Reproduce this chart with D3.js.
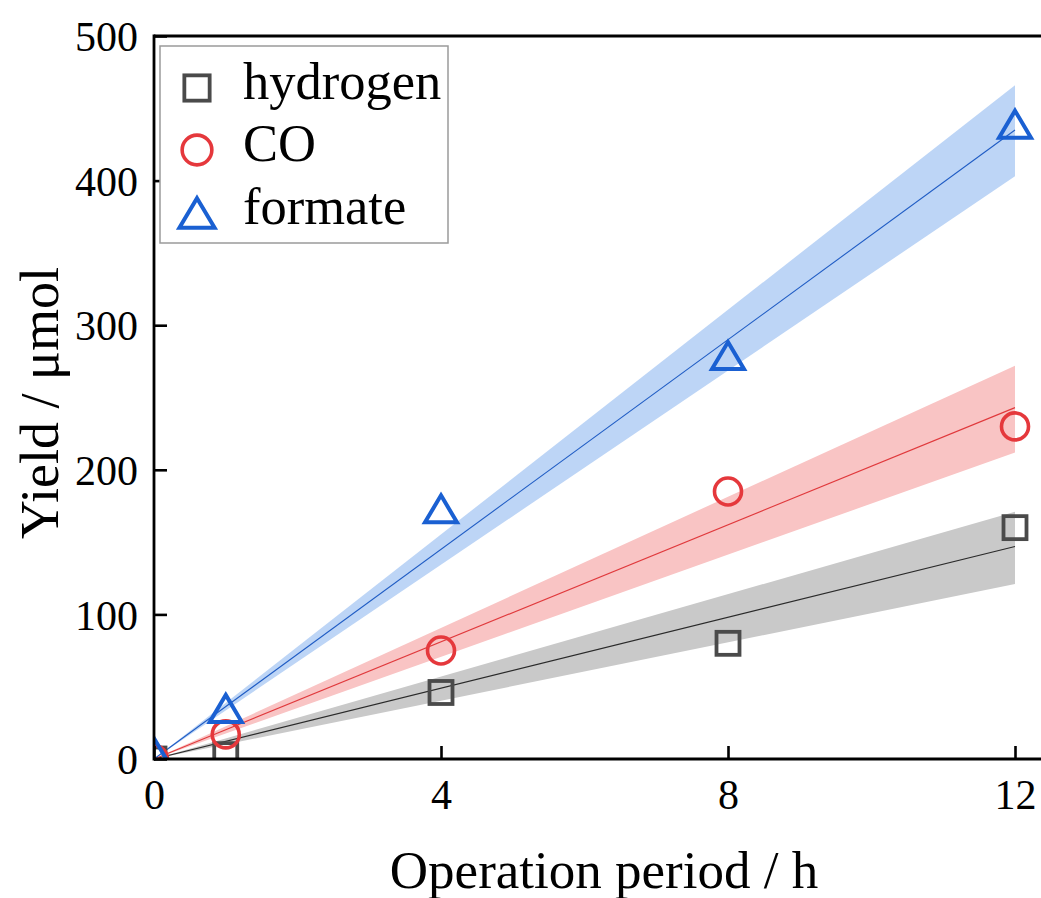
<!DOCTYPE html>
<html>
<head>
<meta charset="utf-8">
<script src="https://cdn.jsdelivr.net/npm/d3@7"></script>
<style>
  body { margin: 0; background: #fff; }
  svg text { font-family: "Liberation Serif", "Times New Roman", serif; fill: #000; }
</style>
</head>
<body>
<div id="plot"></div>
<script>
// values
var hours = [0, 1, 4, 8, 12];
var hydrogen = [0, 3, 46, 80, 160];
var co = [0, 17, 75, 185, 230];
var formate = [5, 35, 173, 279, 439];

// linear fits through origin (read at x = 0 and x = 12)
var fitX = [0, 12];
var hydrogenFit = [0, 147], hydrogenLow = [0, 121], hydrogenHigh = [0, 171];
var coFit = [0, 243], coLow = [0, 212], coHigh = [0, 272];
var formateFit = [0, 435], formateLow = [0, 403], formateHigh = [0, 466];

var xTicks = [0, 4, 8, 12];
var yTicks = [0, 100, 200, 300, 400, 500];
var names = ["hydrogen", "CO", "formate"];

var W = 1041, H = 898;
var margin = { left: 154, top: 36, bottom: 759, right: 1015 };

var svg = d3.select("#plot").append("svg")
    .attr("width", W)
    .attr("height", H);

var x = d3.scaleLinear().domain([0, 12]).range([margin.left, margin.right]);
var y = d3.scaleLinear().domain([0, 500]).range([margin.bottom, margin.top]);

svg.append("defs").append("clipPath")
    .attr("id", "clip")
  .append("rect")
    .attr("x", margin.left).attr("y", margin.top)
    .attr("width", W - margin.left).attr("height", margin.bottom - margin.top);

var series = [
  { name: names[0], vals: hydrogen, fit: hydrogenFit, lo: hydrogenLow, hi: hydrogenHigh,
    mark: "#4a4a4a", line: "#2a2a2a", band: "#c9c9c9", shape: "square" },
  { name: names[1], vals: co, fit: coFit, lo: coLow, hi: coHigh,
    mark: "#e5383c", line: "#e0393c", band: "#f9c4c4", shape: "circle" },
  { name: names[2], vals: formate, fit: formateFit, lo: formateLow, hi: formateHigh,
    mark: "#1a60d2", line: "#1f5cc4", band: "#bdd5f6", shape: "triangle" }
];

var plot = svg.append("g").attr("clip-path", "url(#clip)");

// confidence bands
var area = d3.area()
    .x(function(d) { return x(d.x); })
    .y0(function(d) { return y(d.lo); })
    .y1(function(d) { return y(d.hi); });

series.forEach(function(s) {
  var pts = fitX.map(function(v, i) { return { x: v, lo: s.lo[i], hi: s.hi[i] }; });
  plot.append("path")
      .datum(pts)
      .attr("fill", s.band)
      .attr("d", area);
});

var line = d3.line()
    .x(function(d) { return x(d[0]); })
    .y(function(d) { return y(d[1]); });

series.forEach(function(s) {
  plot.append("path")
      .datum(fitX.map(function(v, i) { return [v, s.fit[i]]; }))
      .attr("fill", "none")
      .attr("stroke", s.line)
      .attr("stroke-width", 1.1)
      .attr("d", line);
});

// marker drawing, k scales the marker size
function drawMarker(g, shape, color, k) {
  k = k || 1;
  if (shape === "square") {
    g.append("rect")
      .attr("x", -11.5 * k).attr("y", -11.5 * k).attr("width", 23 * k).attr("height", 23 * k)
      .attr("fill", "none").attr("stroke", color).attr("stroke-width", 3.8);
  } else if (shape === "circle") {
    g.append("circle")
      .attr("r", 13.5 * k)
      .attr("fill", "none").attr("stroke", color).attr("stroke-width", 3.6);
  } else {
    g.append("path")
      .attr("d", "M0," + (-13.5 * k) + " L" + (16 * k) + "," + (13.5 * k) + " L" + (-16 * k) + "," + (13.5 * k) + " Z")
      .attr("fill", "none").attr("stroke", color).attr("stroke-width", 4)
      .attr("stroke-linejoin", "miter");
  }
}

series.forEach(function(s) {
  s.vals.forEach(function(v, i) {
    var g = plot.append("g")
        .attr("transform", "translate(" + x(hours[i]) + "," + y(v) + ")");
    drawMarker(g, s.shape, s.mark, 1);
  });
});

// axes
var xAxis = d3.axisBottom(x).tickValues(xTicks).tickSize(-13).tickSizeOuter(0).tickPadding(0);
var yAxis = d3.axisLeft(y).tickValues(yTicks).tickSize(-13).tickSizeOuter(0);

var gx = svg.append("g")
    .attr("transform", "translate(0," + margin.bottom + ")")
    .call(xAxis);
gx.select(".domain").remove();
gx.selectAll(".tick line").attr("stroke", "#000").attr("stroke-width", 2.6);
gx.selectAll(".tick text")
    .attr("y", 50).attr("dy", 0)
    .style("font-size", "42px");

var gy = svg.append("g")
    .attr("transform", "translate(" + margin.left + ",0)")
    .call(yAxis);
gy.select(".domain").remove();
gy.selectAll(".tick line").attr("stroke", "#000").attr("stroke-width", 2.6);
gy.selectAll(".tick text")
    .attr("x", -16).attr("dy", "0.35em")
    .style("font-size", "42px");

// spines
svg.append("line")
    .attr("x1", margin.left).attr("x2", W).attr("y1", margin.bottom).attr("y2", margin.bottom)
    .attr("stroke", "#000").attr("stroke-width", 2.8);
svg.append("line")
    .attr("x1", margin.left).attr("x2", W).attr("y1", margin.top).attr("y2", margin.top)
    .attr("stroke", "#000").attr("stroke-width", 2.8);
svg.append("line")
    .attr("x1", margin.left).attr("x2", margin.left)
    .attr("y1", margin.top - 1.4).attr("y2", margin.bottom + 1.4)
    .attr("stroke", "#000").attr("stroke-width", 2.8);

// axis titles
svg.append("text")
    .attr("x", 604).attr("y", 888)
    .attr("text-anchor", "middle")
    .style("font-size", "53px")
    .text("Operation period / h");

svg.append("text")
    .attr("transform", "translate(58,403) rotate(-90)")
    .attr("text-anchor", "middle")
    .style("font-size", "54px")
    .text("Yield / μmol");

// legend
var legend = svg.append("g");
legend.append("rect")
    .attr("x", 160).attr("y", 46).attr("width", 288).attr("height", 197)
    .attr("fill", "#fff").attr("stroke", "#9a9a9a").attr("stroke-width", 1.5);

var rowY = [88, 150, 213];
series.forEach(function(s, i) {
  var g = legend.append("g").attr("transform", "translate(197," + rowY[i] + ")");
  drawMarker(g, s.shape, s.mark, 1.1);
  legend.append("text")
      .attr("x", 243).attr("y", rowY[i] + 11)
      .style("font-size", "52.5px")
      .text(s.name);
});
</script>
</body>
</html>
